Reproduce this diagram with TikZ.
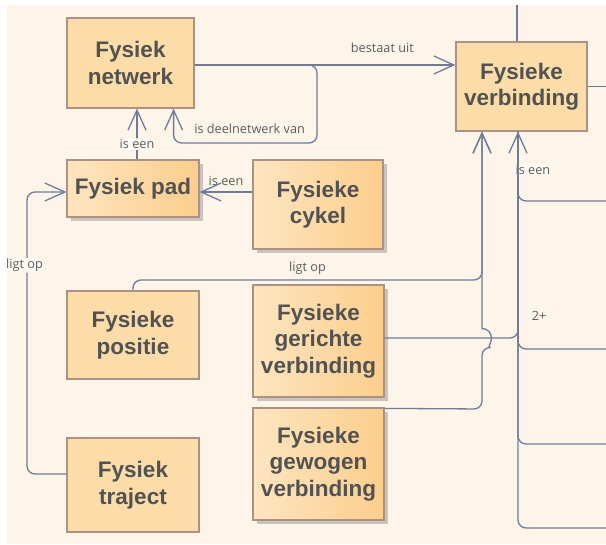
\documentclass[tikz,border=0pt]{standalone}
\usepackage{fontspec}
\setmainfont{Liberation Sans}
\newfontfamily\lblfont{Open Sans}
\usetikzlibrary{arrows.meta,shadows}

\definecolor{bg}{RGB}{253,245,234}
\definecolor{boxfill}{RGB}{252,220,168}
\definecolor{gradL}{RGB}{253,229,192}
\definecolor{gradR}{RGB}{252,206,140}
\definecolor{boxline}{RGB}{172,146,132}
\definecolor{wire}{RGB}{112,123,153}
\definecolor{ink}{RGB}{82,82,82}
\definecolor{lblink}{RGB}{92,92,92}
\definecolor{shade}{RGB}{204,196,188}

\begin{document}
\begin{tikzpicture}[x=1pt,y=-1pt,
  cls/.style={draw=boxline, line width=1.2pt, fill=boxfill, align=center,
    font=\fontsize{22.5}{26.5}\selectfont\bfseries, text=ink, inner sep=0pt},
  gcls/.style={cls, left color=gradL, right color=gradR,
    drop shadow={shadow xshift=4pt, shadow yshift=-4pt, fill=shade, opacity=1}},
  wirel/.style={draw=wire, line width=1.3pt, rounded corners=8pt},
  assoc/.style={wirel, -{Straight Barb[length=20pt,width=18pt]}},
  lbl/.style={font=\lblfont\fontsize{12.7}{14}\selectfont, text=lblink, inner sep=1pt},
  lblbg/.style={lbl, fill=bg!50!white}
]
\useasboundingbox (0,0) rectangle (606,545);
\fill[white] (0,0) rectangle (606,545);
\fill[bg] (7,5) rectangle (606,544);

% classes
\node[cls,  minimum width=127pt, minimum height=90pt]  (netwerk)    at (130.5,63)  {Fysiek\\netwerk};
\node[cls,  minimum width=131pt, minimum height=89pt]  (verbinding) at (521.5,86.5) {Fysieke\\verbinding};
\node[gcls, minimum width=132pt, minimum height=57pt]  (pad)        at (133,188.5) {Fysiek pad};
\node[gcls, minimum width=130pt, minimum height=89pt]  (cykel)      at (318,204.5) {Fysieke\\cykel};
\node[cls,  minimum width=132pt, minimum height=88pt]  (positie)    at (133,335)   {Fysieke\\positie};
\node[cls,  minimum width=132pt, minimum height=94pt]  (traject)    at (133,485)   {Fysiek\\traject};
\node[gcls, minimum width=131pt, minimum height=112pt] (gericht)    at (318.5,341) {Fysieke\\gerichte\\verbinding};
\node[gcls, minimum width=131pt, minimum height=112pt] (gewogen)    at (318.5,464) {Fysieke\\gewogen\\verbinding};

% loose ends running off the sheet
\coordinate (edgeTop) at (517,5);
\coordinate (edgeR0) at (606,86.5);
\coordinate (edgeR1) at (606,201);
\coordinate (edgeR2) at (606,349);
\coordinate (edgeR3) at (606,444);
\coordinate (edgeR4) at (606,528);

% attachment points
\coordinate (nw)   at ([yshift=-2pt]netwerk.east);
\coordinate (nwin) at ([xshift=-21pt]netwerk.south east);
\coordinate (padtop) at ([xshift=4pt]pad.north);
\coordinate (cykw) at ([yshift=12.5pt]cykel.west);
\coordinate (trw)  at ([yshift=11pt]traject.west);
\coordinate (padw) at ([yshift=-3.5pt]pad.west);
\coordinate (vb1)  at ([xshift=-39.5pt]verbinding.south);
\coordinate (vb2)  at ([xshift=-3.5pt]verbinding.south);
\coordinate (gre)  at ([yshift=3pt]gericht.east);
\coordinate (gwe)  at ([yshift=-1pt]gewogen.north east);

\draw[wirel] (edgeTop) -- (edgeTop |- verbinding.north);
\draw[wirel] (verbinding.east) -- (edgeR0);

% associations
\draw[assoc] (nw) -- node[lbl, pos=.72, yshift=17pt]{bestaat uit} (verbinding.west |- nw);
\draw[assoc] (nw) -- (317,65) -- (317,143)
  -- node[lbl, pos=.47, yshift=14pt]{is deelnetwerk van} (nwin |- 0,143) -- (nwin);
\draw[assoc] (padtop) -- node[lblbg, pos=.3]{is een} (padtop |- netwerk.south);
\draw[assoc] (cykw) -- node[lbl, midway, yshift=11pt]{is een} (pad.east |- cykw);
\draw[assoc] (trw) -- (27,474) -- node[lblbg, pos=.74, xshift=-2.5pt]{ligt op} (27,192) -- (padw);
\draw[assoc] (positie.north) -- (133,280)
  -- node[lbl, pos=.5, yshift=12pt]{ligt op} (482,280) -- (vb1);
\draw[assoc] (gwe) -- (482,409) -- (482,347.5) [sharp corners]
  arc[start angle=90, end angle=-90, radius=9.5] -- (vb1);

% generalisations
\draw[assoc] (gre) -| node[lblbg, pos=.908, anchor=west, xshift=-4pt]{is een} (vb2);
\draw[wirel] (edgeR1) -| (vb2);
\draw[wirel] (edgeR2) -| node[lbl, pos=.38, yshift=33pt]{2+} (vb2);
\draw[wirel] (edgeR3) -| (vb2);
\draw[wirel] (edgeR4) -| (vb2);
\end{tikzpicture}
\end{document}
